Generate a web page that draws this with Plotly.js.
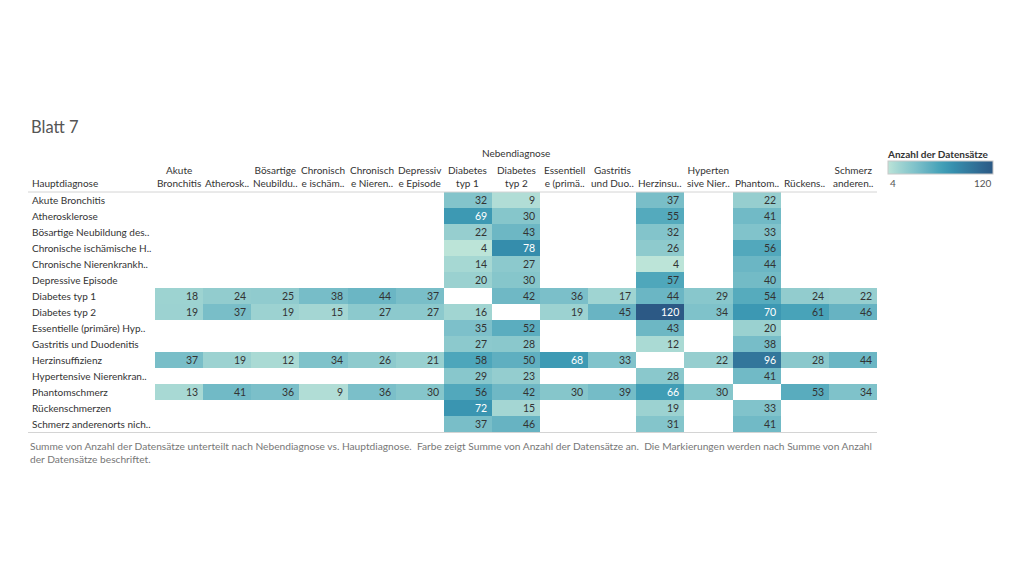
<!DOCTYPE html>
<html>
<head>
<meta charset="utf-8">
<script src="https://cdn.plot.ly/plotly-3.0.1.min.js"></script>
<style>html,body{margin:0;padding:0;background:#fff;}#chart{width:1024px;height:576px;}</style>
</head>
<body>
<div id="chart"></div>
<script>
// Hauptdiagnose (rows)
const rowLabels = [
  "Akute Bronchitis", "Atherosklerose", "Bösartige Neubildung des..",
  "Chronische ischämische H..", "Chronische Nierenkrankh..", "Depressive Episode",
  "Diabetes typ 1", "Diabetes typ 2", "Essentielle (primäre) Hyp..",
  "Gastritis und Duodenitis", "Herzinsuffizienz", "Hypertensive Nierenkran..",
  "Phantomschmerz", "Rückenschmerzen", "Schmerz anderenorts nich.."
];
// Nebendiagnose (columns) as displayed in header
const colLabels = [
  "Akute<br>Bronchitis", "Atherosk..", "Bösartige<br>Neubildu..", "Chronisch<br>e ischäm..",
  "Chronisch<br>e Nieren..", "Depressiv<br>e Episode", "Diabetes<br>typ 1", "Diabetes<br>typ 2",
  "Essentiell<br>e (primä..", "Gastritis<br>und Duo..", "Herzinsu..", "Hyperten<br>sive Nier..",
  "Phantom..", "Rückens..", "Schmerz<br>anderen.."
];
const N = null;
// Anzahl der Datensätze, one array per Hauptdiagnose row
const akuteBronchitis   = [N,N,N,N,N,N,32,9,N,N,37,N,22,N,N];
const atherosklerose    = [N,N,N,N,N,N,69,30,N,N,55,N,41,N,N];
const boesartige        = [N,N,N,N,N,N,22,43,N,N,32,N,33,N,N];
const chronIschaem      = [N,N,N,N,N,N,4,78,N,N,26,N,56,N,N];
const chronNieren       = [N,N,N,N,N,N,14,27,N,N,4,N,44,N,N];
const depressive        = [N,N,N,N,N,N,20,30,N,N,57,N,40,N,N];
const diabetes1         = [18,24,25,38,44,37,N,42,36,17,44,29,54,24,22];
const diabetes2         = [19,37,19,15,27,27,16,N,19,45,120,34,70,61,46];
const essentielle       = [N,N,N,N,N,N,35,52,N,N,43,N,20,N,N];
const gastritis         = [N,N,N,N,N,N,27,28,N,N,12,N,38,N,N];
const herzinsuffizienz  = [37,19,12,34,26,21,58,50,68,33,N,22,96,28,44];
const hypertensive      = [N,N,N,N,N,N,29,23,N,N,28,N,41,N,N];
const phantomschmerz    = [13,41,36,9,36,30,56,42,30,39,66,30,N,53,34];
const rueckenschmerzen  = [N,N,N,N,N,N,72,15,N,N,19,N,33,N,N];
const schmerzAnderenorts= [N,N,N,N,N,N,37,46,N,N,31,N,41,N,N];

const zRows = [akuteBronchitis, atherosklerose, boesartige, chronIschaem, chronNieren, depressive,
  diabetes1, diabetes2, essentielle, gastritis, herzinsuffizienz, hypertensive,
  phantomschmerz, rueckenschmerzen, schmerzAnderenorts];

const blueTeal = ['#bce4d8','#aedcd5','#a1d5d2','#95cecf','#89c8cc','#7ec1ca','#72bac6','#66b2c2','#59acbe','#4ba5ba','#419eb6','#3b96b2','#358ead','#3586a7','#347ea1','#32779b','#316f96','#2f6790','#2d608a','#2c5985'];
const colorscale = blueTeal.map((c,i)=>[i/(blueTeal.length-1), c]);

const W = 1024, H = 576;
const px = x => x / W;
const py = y => 1 - y / H;
const FONT = "Lato, 'Noto Sans', sans-serif";

const xIdx = colLabels.map((_, i) => i);
const yIdx = rowLabels.map((_, i) => i);

const trace = {
  type: 'heatmap',
  z: zRows, x: xIdx, y: yIdx,
  zmin: 4, zmax: 120,
  colorscale: colorscale,
  hoverongaps: false,
  colorbar: {
    orientation: 'h',
    x: px((888+993)/2), xanchor: 'center',
    y: py(175), yanchor: 'bottom',
    len: 105, lenmode: 'pixels',
    thickness: 13, thicknessmode: 'pixels',
    xpad: 0, ypad: 0,
    outlinewidth: 1, outlinecolor: '#c8c8c8',
    ticks: '', showticklabels: false
  }
};

const annotations = [];
// cell labels
zRows.forEach((row, r) => {
  row.forEach((v, c) => {
    if (v === null) return;
    annotations.push({
      xref: 'x', yref: 'y', x: c + 0.5, y: r, text: String(v),
      xanchor: 'right', yanchor: 'middle', xshift: -3, showarrow: false,
      font: {family: FONT, size: 10.5, color: v >= 66 ? '#ffffff' : '#333333'}
    });
  });
});
// row labels
rowLabels.forEach((t, r) => {
  annotations.push({
    xref: 'paper', yref: 'y', x: px(30), y: r, text: t,
    xanchor: 'left', yanchor: 'middle', showarrow: false,
    font: {family: FONT, size: 10, color: '#333333'}
  });
});
// column labels
colLabels.forEach((t, c) => {
  annotations.push({
    xref: 'x', yref: 'paper', x: c, y: py(191), text: t,
    xanchor: 'center', yanchor: 'bottom', showarrow: false, align: 'center',
    font: {family: FONT, size: 10, color: '#333333'}
  });
});
annotations.push(
  {xref:'paper', yref:'paper', x: px(30), y: py(191), text: 'Hauptdiagnose', xanchor:'left', yanchor:'bottom', showarrow:false,
   font:{family: FONT, size: 10, color:'#333333'}},
  {xref:'paper', yref:'paper', x: px(516), y: py(153), text: 'Nebendiagnose', xanchor:'center', yanchor:'middle', showarrow:false,
   font:{family: FONT, size: 10, color:'#333333'}},
  {xref:'paper', yref:'paper', x: px(29), y: py(127), text: 'Blatt 7', xanchor:'left', yanchor:'middle', showarrow:false,
   font:{family: FONT, size: 16.5, color:'#555555'}},
  {xref:'paper', yref:'paper', x: px(885), y: py(154), text: '<b>Anzahl der Datensätze</b>', xanchor:'left', yanchor:'middle', showarrow:false,
   font:{family: FONT, size: 10, color:'#333333'}},
  {xref:'paper', yref:'paper', x: px(888), y: py(183), text: '4', xanchor:'left', yanchor:'middle', showarrow:false,
   font:{family: FONT, size: 10, color:'#555555'}},
  {xref:'paper', yref:'paper', x: px(994), y: py(183), text: '120', xanchor:'right', yanchor:'middle', showarrow:false,
   font:{family: FONT, size: 10, color:'#555555'}},
  {xref:'paper', yref:'paper', x: px(28), y: py(438), align:'left',
   text: 'Summe von Anzahl der Datensätze unterteilt nach Nebendiagnose vs. Hauptdiagnose.  Farbe zeigt Summe von Anzahl der Datensätze an.  Die Markierungen werden nach Summe von Anzahl<br>der Datensätze beschriftet.',
   xanchor:'left', yanchor:'top', showarrow:false,
   font:{family: FONT, size: 10.2, color:'#777777'}}
);

const layout = {
  width: W, height: H,
  margin: {l:0, r:0, t:0, b:0},
  paper_bgcolor: '#ffffff', plot_bgcolor: '#ffffff',
  showlegend: false,
  xaxis: {domain: [px(155), px(877)], range: [-0.5, 14.5], showticklabels: false, showgrid: false, zeroline: false, ticks: '', fixedrange: true},
  yaxis: {domain: [py(432), py(192)], range: [14.5, -0.5], showticklabels: false, showgrid: false, zeroline: false, ticks: '', fixedrange: true},
  annotations: annotations,
  shapes: [
    {type:'line', xref:'paper', yref:'paper', x0: px(28), x1: px(877), y0: py(192), y1: py(192), line:{color:'#d4d4d4', width:1}},
    {type:'line', xref:'paper', yref:'paper', x0: px(28), x1: px(877), y0: py(432.5), y1: py(432.5), line:{color:'#d4d4d4', width:1}}
  ]
};

Plotly.newPlot('chart', [trace], layout, {displayModeBar: false, staticPlot: true});
</script>
</body>
</html>
